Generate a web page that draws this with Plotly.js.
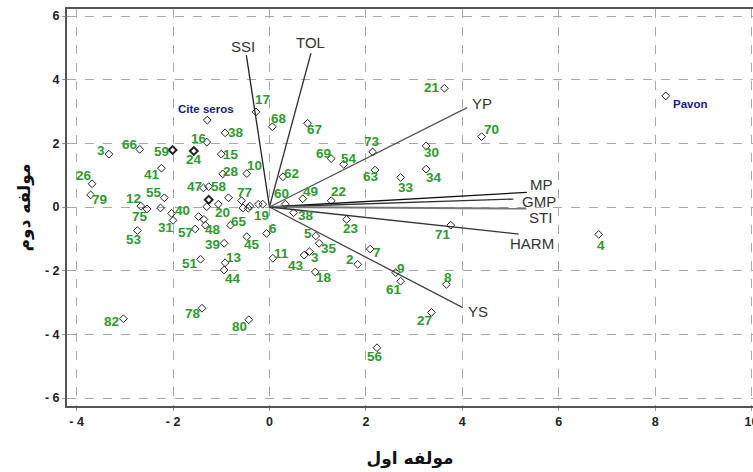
<!DOCTYPE html>
<html>
<head>
<meta charset="utf-8">
<script src="https://cdn.plot.ly/plotly-3.0.1.min.js"></script>
<style>html,body{margin:0;padding:0;background:#fff}#chart{width:753px;height:472px}</style>
</head>
<body>
<div id="chart"></div>
<script>
// Genotype scores (first and second principal components)
const genoLabels = ['17','68','38','16','3','66','59','24','15','28','10','62','41','26','79','55','47','58','','','77','12','75','','40','31','53','57','48','','','20','','65','45','39','6','','19','','','','60','49','22','38','23','5','35','3','43','11','18','13','44','51','7','2','9','61','8','27','56','82','78','80','67','73','69','54','30','34','63','33','71','21','70','4'];
const genoPC1 = [-0.28,0.06,-0.92,-1.30,-3.33,-2.69,-2.01,-1.57,-1.00,-0.97,-0.47,0.28,-2.24,-3.68,-3.71,-2.18,-1.37,-1.26,-1.26,-0.85,-0.58,-2.67,-2.54,-2.26,-2.03,-2.00,-2.74,-1.54,-1.33,-1.47,-1.36,-1.06,-1.30,-0.81,-0.47,-0.94,-0.06,-0.23,-0.14,-0.55,-0.44,-0.41,0.33,0.69,1.28,0.50,1.60,0.96,1.03,0.83,0.72,0.07,0.95,-0.92,-0.94,-1.43,2.09,1.83,2.62,2.72,3.67,3.36,2.23,-3.03,-1.40,-0.43,0.79,2.14,1.28,1.54,3.25,3.25,2.19,2.72,3.76,3.63,4.40,6.83];
const genoPC2 = [2.99,2.52,2.33,2.04,1.66,1.81,1.79,1.76,1.66,1.04,1.05,0.95,1.22,0.73,0.38,0.29,0.60,0.64,0.23,0.29,0.20,0.03,-0.06,-0.03,-0.20,-0.42,-0.74,-0.69,-0.57,-0.30,-0.39,0.09,0.01,-0.57,-0.93,-1.14,-0.83,0.09,0.09,-0.03,-0.04,0.03,0.09,0.26,0.20,-0.18,-0.39,-0.91,-1.14,-1.40,-1.51,-1.61,-2.04,-1.75,-1.98,-1.64,-1.32,-1.80,-2.06,-2.33,-2.43,-3.31,-4.42,-3.51,-3.18,-3.54,2.63,1.73,1.52,1.34,1.92,1.19,1.16,0.93,-0.57,3.73,2.21,-0.86];

// Check cultivars
const checkNames = ['Cite seros','Pavon'];
const checkPC1 = [-1.29, 8.22];
const checkPC2 = [2.73, 3.49];

// Trait vectors
const traitNames = ['SSI','TOL','YP','MP','GMP','STI','HARM','YS'];
const traitPC1 = [-0.48, 0.86, 4.10, 5.34, 5.06, 5.33, 5.17, 4.01];
const traitPC2 = [4.77, 4.83, 3.12, 0.46, 0.25, -0.05, -0.85, -3.16];

// Axis ticks
const tickVals = [-6,-4,-2,0,2,4,6,8,10];
const tickText = ['- 6','- 4','- 2','0','2','4','6','8','10'];

// ---- styling (not data): label offsets in screen pixels [dx, dy(down)] ----
const genoLabelOffset = [[7,-12],[7,-8],[11,0],[-8,-4],[-8,-4],[-10,-5],[-11,1],[0,9],[10,0],[8,-2],[8,-8],[9,-3],[-9,6],[-8,-8],[9,5],[-10,-5],[-9,-1],[10,0],[0,0],[0,0],[3,-8],[-7,-8],[-7,8],[0,0],[11,-3],[-7,7],[-3,9],[-10,4],[8,4],[0,0],[0,0],[4,8],[0,0],[9,-4],[5,8],[-12,1],[6,-5],[0,0],[-1,11],[0,0],[0,0],[0,0],[-4,-11],[8,-7],[7,-9],[12,3],[4,9],[-8,-2],[10,5],[6,6],[-8,10],[9,-5],[9,6],[9,-5],[9,8],[-11,4],[7,3],[-8,-5],[5,-4],[-7,8],[2,-7],[-7,8],[-2,9],[-12,3],[-9,5],[-9,7],[7,6],[-1,-10],[-8,-5],[5,-6],[5,7],[8,8],[-4,6],[5,10],[-8,9],[-12,-1],[10,-7],[2,11]];
const checkLabelOffset = [[-1,-11.5],[25,8]];
const heavy = new Set([6,7,18]);
const lineW = genoPC1.map((_, i) => heavy.has(i) ? 2 : 1);

const traitColors = ['#222','#333','#555','#111','#333','#777','#333','#444'];
const traitWidth  = [1.3,1.3,1.3,1.3,1.3,2,1.3,1.3];
const traitLabelShift = [[-3,9,'center'],[0,11,'center'],[4,4,'left'],[2,8,'left'],[8,-2,'left'],[2,-9,'left'],[-10,-9,'left'],[4,-4,'left']];

const traces = [];
traitNames.forEach((n, i) => {
  traces.push({
    x: [0, traitPC1[i]], y: [0, traitPC2[i]], mode: 'lines', type: 'scatter',
    line: {color: traitColors[i], width: traitWidth[i]}, hoverinfo: 'skip', showlegend: false
  });
});
traces.push({
  x: genoPC1, y: genoPC2, mode: 'markers', type: 'scatter',
  marker: {symbol: 'diamond-open', size: 6, color: '#222', line: {width: lineW, color: '#222'}},
  cliponaxis: false, showlegend: false
});
traces.push({
  x: checkPC1, y: checkPC2, mode: 'markers', type: 'scatter',
  marker: {symbol: 'diamond-open', size: 6, color: '#222', line: {width: 1, color: '#222'}},
  cliponaxis: false, showlegend: false
});

const annotations = traitNames.map((n, i) => ({
  x: traitPC1[i], y: traitPC2[i], text: n, showarrow: false,
  xanchor: traitLabelShift[i][2], yanchor: 'middle', borderpad: 0,
  xshift: traitLabelShift[i][0], yshift: traitLabelShift[i][1],
  font: {family: 'Liberation Sans, Arial', size: 15, color: '#333'}
}));
genoLabels.forEach((t, i) => {
  if (!t) return;
  annotations.push({
    x: genoPC1[i], y: genoPC2[i], text: t, showarrow: false,
    xanchor: 'center', yanchor: 'middle', borderpad: 0,
    xshift: genoLabelOffset[i][0], yshift: -genoLabelOffset[i][1],
    font: {family: 'Liberation Sans Narrow, Liberation Sans, Arial', size: 13.5, color: '#2e9a2e', weight: 'bold'}
  });
});
checkNames.forEach((t, i) => {
  annotations.push({
    x: checkPC1[i], y: checkPC2[i], text: t, showarrow: false,
    xanchor: 'center', yanchor: 'middle', borderpad: 0,
    xshift: checkLabelOffset[i][0], yshift: -checkLabelOffset[i][1],
    font: {family: 'Liberation Sans, Arial', size: 11.5, color: '#1a1a8a', weight: 'bold'}
  });
});

const axisCommon = {
  tickvals: tickVals, ticktext: tickText,
  tickfont: {family: 'Liberation Sans Narrow, Liberation Sans, Arial', size: 12.5, color: '#222', weight: 'bold'},
  showgrid: true, gridcolor: '#a8a8a8', griddash: 'dash', gridwidth: 1,
  zeroline: false, showline: true, linecolor: '#555', linewidth: 2,
  ticks: 'outside', ticklen: 3, tickcolor: '#999', ticklabeloverflow: 'allow'
};

const layout = {
  width: 753, height: 472,
  margin: {l: 67, r: 0, t: 9, b: 66},
  paper_bgcolor: '#fff', plot_bgcolor: '#fff',
  xaxis: Object.assign({}, axisCommon, {
    range: [-4.2, 10.03], mirror: true,
    title: {text: 'مولفه اول', font: {family: 'DejaVu Sans', size: 17, color: '#111', weight: 'bold'}, standoff: 24}
  }),
  yaxis: Object.assign({}, axisCommon, {
    range: [-6.25, 6.22],
    title: {text: 'مولفه دوم', font: {family: 'DejaVu Sans', size: 17, color: '#111', weight: 'bold'}, standoff: 10}
  }),
  annotations: annotations,
  showlegend: false
};

Plotly.newPlot('chart', traces, layout, {displayModeBar: false, staticPlot: true});
</script>
</body>
</html>
